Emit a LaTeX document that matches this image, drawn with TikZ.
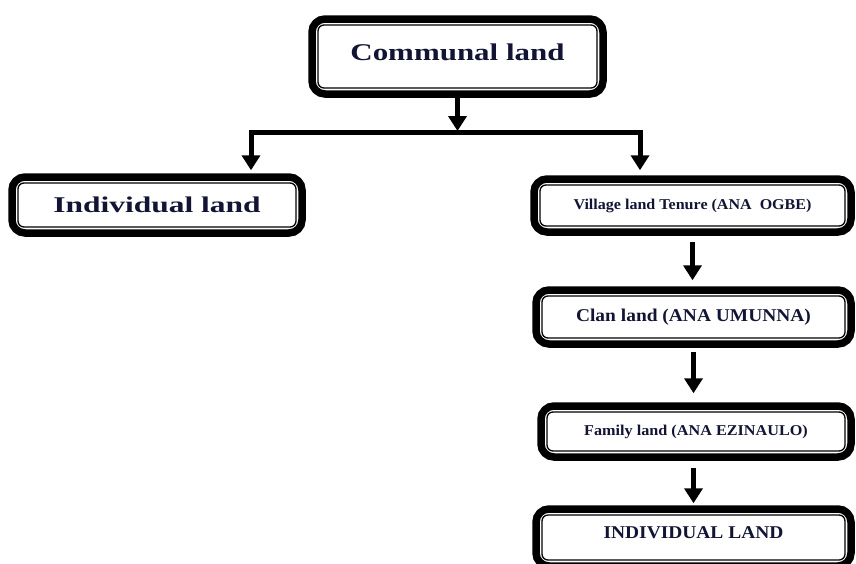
\documentclass[tikz,border=0pt]{standalone}
\usepackage{fontspec}
\setmainfont{Liberation Serif}
\usetikzlibrary{arrows.meta,fit}
\definecolor{txt}{RGB}{18,20,52}
\newcommand{\lbl}[3]{\scalebox{#1}[1]{\fontsize{#2}{#2}\selectfont\bfseries #3}}
\begin{document}
\begin{tikzpicture}[x=1pt,y=-1pt,
  inbox/.style={draw, line width=1.3pt, rounded corners=6pt, outer sep=0pt, inner sep=0pt, text=txt, align=center},
  outbox/.style={draw, line width=7.5pt, rounded corners=13pt, outer sep=3.75pt, inner sep=6pt},
  arr/.style={line width=5pt, -{Triangle[width=18pt,length=15pt]}},
  bar/.style={line width=5pt, line cap=rect}]
\useasboundingbox (0,0) rectangle (856,563);
\clip (0,0) rectangle (856,563);

\node[inbox, minimum width=279pt, minimum height=63pt] (com) at (457.5,56.5)
  {\raisebox{9pt}{\lbl{1.29}{24pt}{Communal land}}};
\node[outbox, fit=(com)] (comO) {};

\node[inbox, minimum width=278pt, minimum height=44pt] (ind) at (157,205)
  {\lbl{1.4}{22.5pt}{Individual land}};
\node[outbox, fit=(ind)] (indO) {};

\node[inbox, minimum width=305pt, minimum height=41pt] (vil) at (692.5,205.5)
  {\lbl{1.07}{15pt}{Village land Tenure (ANA\ \ OGBE)}};
\node[outbox, fit=(vil)] (vilO) {};

\node[inbox, minimum width=303pt, minimum height=42pt] (cla) at (693.5,317)
  {\lbl{1.08}{18pt}{Clan land (ANA UMUNNA)}};
\node[outbox, fit=(cla)] (claO) {};

\node[inbox, minimum width=298pt, minimum height=39pt] (fam) at (696,431.5)
  {\lbl{1.08}{15pt}{Family land (ANA EZINAULO)}};
\node[outbox, fit=(fam)] (famO) {};

\node[inbox, minimum width=303pt, minimum height=45pt] (in2) at (693.5,537.5)
  {\raisebox{10pt}{\lbl{1.08}{18pt}{INDIVIDUAL LAND}}};
\node[outbox, fit=(in2)] (in2O) {};

\coordinate (j) at (457.5,132);
\coordinate (jl) at (251,132);
\coordinate (jr) at (640,132);

\draw[arr, shorten >=1pt] (comO.south) -- (j);
\draw[bar] (jl) -- (jr);
\draw[arr, shorten >=3pt] (jl) -- (jl |- indO.north);
\draw[arr, shorten >=5pt] (jr) -- (jr |- vilO.north);

\draw[arr, shorten <=6pt, shorten >=6pt] (vilO.south) -- (vilO.south |- claO.north);
\draw[arr, shorten <=4pt, shorten >=9pt] (claO.south) -- (claO.south |- famO.north);
\draw[arr, shorten <=7pt, shorten >=2pt] (claO.south |- famO.south) -- (claO.south |- in2O.north);
\end{tikzpicture}
\end{document}
